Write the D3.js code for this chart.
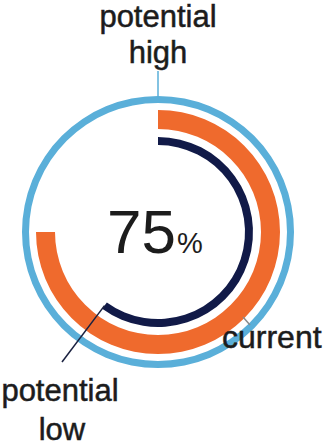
<!DOCTYPE html>
<html><head><meta charset="utf-8">
<script src="https://cdn.jsdelivr.net/npm/d3@7"></script>
<style>html,body{margin:0;padding:0;background:#fff;}svg{display:block;}</style>
</head><body>
<script>
const series = ["potential high", "current", "potential low"];
const values = [100, 75, 60];
const colors = ["#5aafd9", "#ef6a2d", "#111a48"];
const centerValue = "75";
const centerUnit = "%";

const W = 329, H = 446, cx = 158, cy = 232;
const svg = d3.select("body").append("svg").attr("width", W).attr("height", H);
const g = svg.append("g").attr("transform", `translate(${cx},${cy})`);

const angle = d3.scaleLinear().domain([0, 100]).range([0, 2 * Math.PI]);
const radii = [[129, 136], [103, 122], [87, 95]];

series.forEach((s, i) => {
  const arc = d3.arc().innerRadius(radii[i][0]).outerRadius(radii[i][1])
    .startAngle(0).endAngle(angle(values[i]));
  g.append("path").attr("d", arc()).attr("fill", colors[i]);
});

const font = "'Liberation Sans', Arial, sans-serif";
const txt = "#1c1c1c";
function label(x, y, t, size, anchor) {
  return svg.append("text").attr("x", x).attr("y", y).attr("text-anchor", anchor || "middle")
    .attr("font-family", font).attr("font-size", size).attr("fill", txt)
    .attr("stroke", txt).attr("stroke-width", 0.5).text(t);
}

// potential high leader
const rHigh = radii[0][0];
g.append("line").attr("x1", 0).attr("x2", 0).attr("y1", -rHigh - 6).attr("y2", -rHigh - 32)
  .attr("stroke", colors[0]).attr("stroke-width", 1.5);
label(cx, 27, "potential", 31);
label(cx, 63, "high", 31);

// potential low leader
const aLow = angle(values[2]);
const rl = (radii[2][0] + radii[2][1]) / 2;
const lx = rl * Math.sin(aLow), ly = -rl * Math.cos(aLow);
g.append("line").attr("x1", lx).attr("y1", ly).attr("x2", 62 - cx).attr("y2", 362 - cy)
  .attr("stroke", "#1a2140").attr("stroke-width", 1.5);
label(60, 401, "potential", 31);
label(62, 440, "low", 31);

// current leader
g.append("line").attr("x1", 243 - cx).attr("y1", 317 - cy).attr("x2", 250 - cx).attr("y2", 325 - cy)
  .attr("stroke", "#8a8a8a").attr("stroke-width", 1.5);
label(222, 348, "current", 32, "start");

// center value
const ct = svg.append("text").attr("x", 107).attr("y", 253).attr("font-family", font).attr("fill", txt);
ct.append("tspan").attr("font-size", 62).text(centerValue);
ct.append("tspan").attr("font-size", 29).attr("dx", 1).text(centerUnit);
</script>
</body></html>
